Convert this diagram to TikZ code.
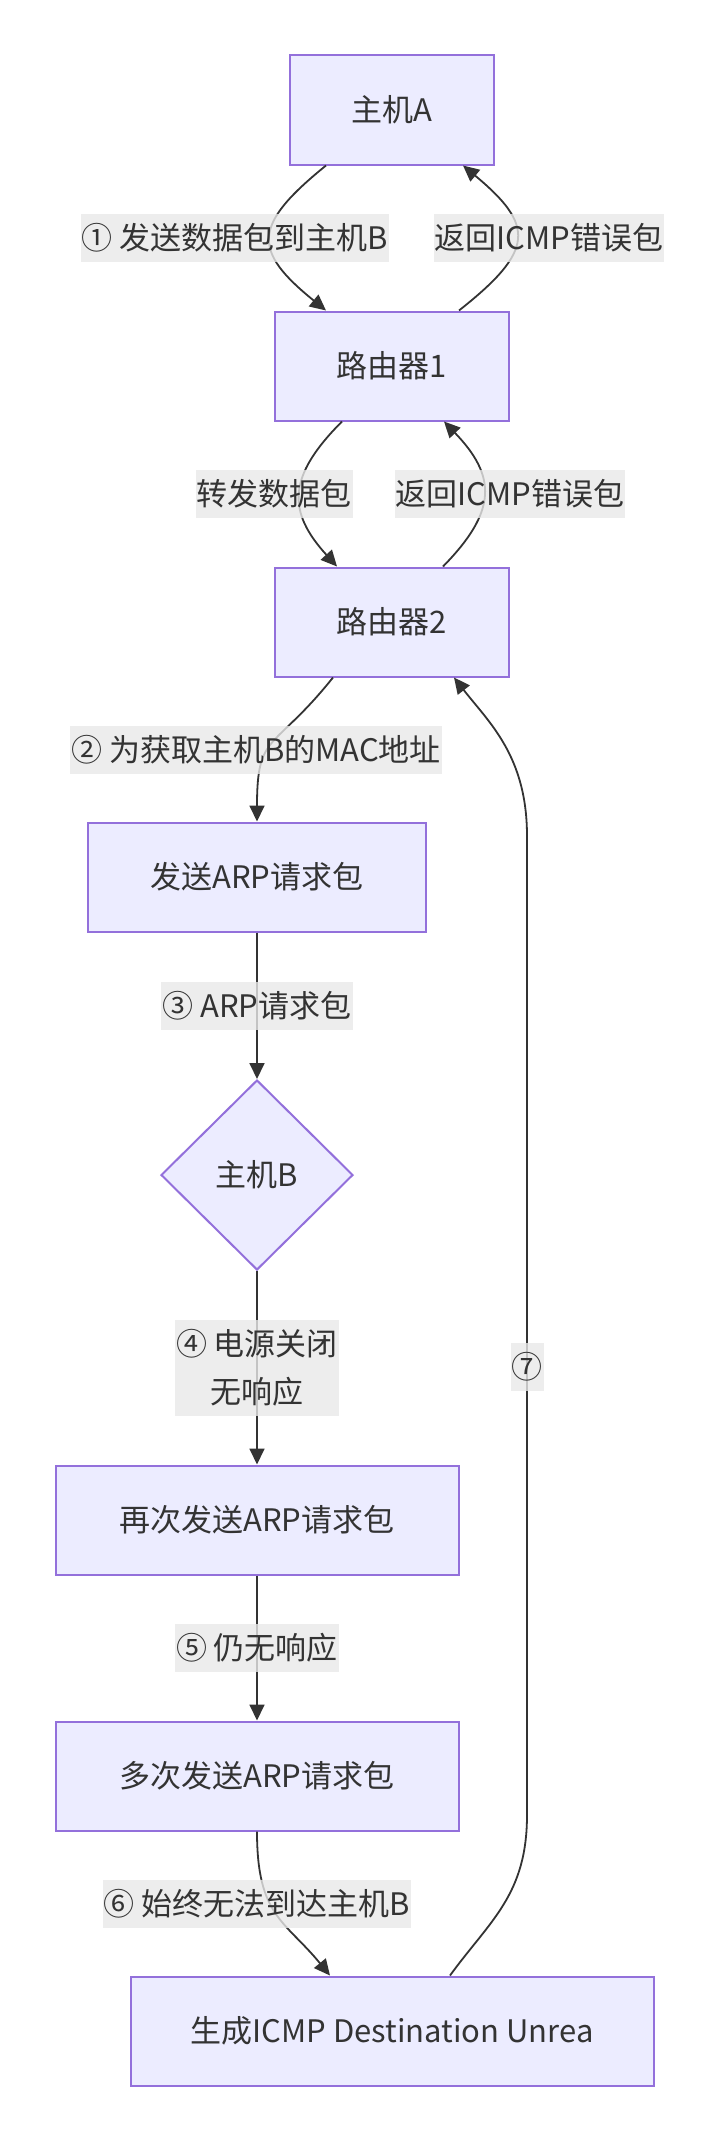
\documentclass[tikz,border=0pt]{standalone}
\usepackage{fontspec}
\setmainfont{Noto Sans CJK SC}
\usetikzlibrary{shapes.geometric,arrows.meta}
\definecolor{nodefill}{HTML}{ECECFF}
\definecolor{nodeline}{HTML}{9370DB}
\definecolor{edgecol}{HTML}{333333}
\definecolor{lblbg}{HTML}{E8E8E8}
\tikzset{
  box/.style={draw=nodeline, fill=nodefill, line width=2pt, text=edgecol, inner sep=0pt, minimum height=109pt},
  dia/.style={diamond, draw=nodeline, fill=nodefill, line width=2pt, text=edgecol, inner sep=0pt, minimum width=192pt, minimum height=190pt},
  lbl/.style={fill=lblbg, fill opacity=0.8, text opacity=1, text=edgecol, inner xsep=1pt, inner ysep=0pt, minimum height=48pt},
  edge/.style={draw=edgecol, line width=1.8pt, -{Triangle[length=16pt,width=15pt]}},
}
\begin{document}
\begin{tikzpicture}[x=1pt,y=-1pt]
\fontsize{31}{48}\selectfont
\useasboundingbox (0,0) rectangle (716,2141);
\node[box, minimum width=204pt] (A) at (392,110) {主机A};
\node[box, minimum width=234pt] (R1) at (392,366) {路由器1};
\node[box, minimum width=234pt] (R2) at (392,622) {路由器2};
\node[box, minimum width=338pt] (ARP) at (257,877) {发送ARP请求包};
\node[dia] (B) at (257,1175) {主机B};
\node[box, minimum width=403pt] (AG) at (257,1520) {再次发送ARP请求包};
\node[box, minimum width=403pt] (MU) at (257,1776) {多次发送ARP请求包};
\node[box, minimum width=523pt] (IC) at (392,2031) {生成ICMP Destination Unrea};

\coordinate (s1) at (527,1815);
\coordinate (s2) at (527,836);

\draw[edge] ([xshift=-66pt]A.south) .. controls +(-74,60) and +(-74,-60) .. ([xshift=-66pt]R1.north);
\draw[edge] ([xshift=67pt]R1.north) .. controls +(76,-60) and +(72,60) .. ([xshift=71pt]A.south);
\draw[edge] ([xshift=-50pt]R1.south) .. controls +(-55,55) and +(-50,-55) .. ([xshift=-55pt]R2.north);
\draw[edge] ([xshift=51pt]R2.north) .. controls +(54,-55) and +(53,55) .. ([xshift=52pt]R1.south);
\draw[edge] ([xshift=-59pt]R2.south) .. controls +(-60,75) and +(0,-90) .. (ARP.north);
\draw[edge] (ARP.south) -- (B.north);
\draw[edge] (B.south) -- (AG.north);
\draw[edge] (AG.south) -- (MU.north);
\draw[edge] (MU.south) .. controls +(0,85) and +(-45,-55) .. ([xshift=-62pt]IC.north);
\draw[edge] ([xshift=58pt]IC.north) .. controls +(40,-55) and +(0,80) .. (s1) -- (s2) .. controls +(0,-80) and +(35,45) .. ([xshift=62pt]R2.south);

\node[lbl] (l1) at (235,238) {① 发送数据包到主机B};
\node[lbl] (l1b) at (549,238) {返回ICMP错误包};
\node[lbl] (l2a) at (274,494) {转发数据包};
\node[lbl] (l2b) at (510,494) {返回ICMP错误包};
\node[lbl] (l3) at (256,750) {② 为获取主机B的MAC地址};
\node[lbl] (l4) at (257,1006) {③ ARP请求包};
\node[lbl, align=center, minimum height=96pt] (l5) at (257,1368) {④ 电源关闭\\无响应};
\node[lbl] (l6) at (257,1648) {⑤ 仍无响应};
\node[lbl] (l7) at (257,1904) {⑥ 始终无法到达主机B};
\node[lbl] (l8) at (527,1367) {⑦};
\end{tikzpicture}
\end{document}
